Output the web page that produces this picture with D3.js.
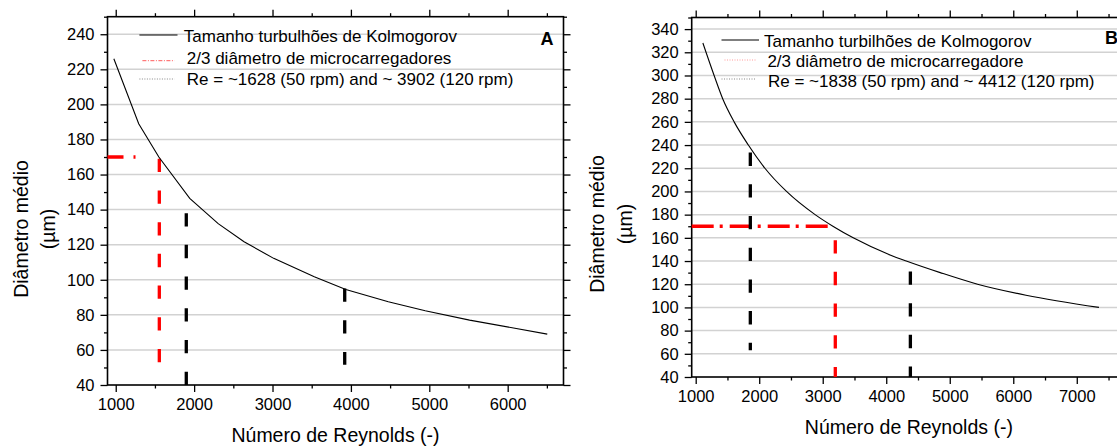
<!DOCTYPE html>
<html><head><meta charset="utf-8">
<script src="https://cdn.jsdelivr.net/npm/d3@7/dist/d3.min.js"></script>
<style>
body{margin:0;background:#fff}
svg{display:block}
text{font-family:"Liberation Sans",Arial,Helvetica,sans-serif;fill:#000}
</style>
</head><body>
<svg id="c" width="1117" height="447"></svg>
<script>
// ---------- DATA ----------
// Panel A: Kolmogorov eddy size vs Reynolds number
const reA  = [976, 1293, 1550, 1944, 2307, 2637, 3015, 3533, 3935, 4477, 4948, 5514, 6505];
const diaA = [226, 189, 170, 146.4, 132, 121.7, 112.2, 101.7, 94.5, 87.5, 82.3, 77, 69];
// Panel B
const reB  = [1113, 1290, 1425, 1605, 1829, 2090, 2430, 2880, 3160, 3480, 4070, 4315, 4850, 5437, 6200, 7349];
const diaB = [328, 300, 280, 260, 240, 220, 200, 180, 170, 160, 145, 140, 130, 120, 110.5, 100];

// reference lines [Re, diameter]
const redHA  = [[895, 170], [1253, 170]];
const redVA  = [[1556, 169], [1556, 52]];
const blk1A  = [[1900, 138], [1900, 40]];
const blk2A  = [[3921, 95], [3921, 51.5]];
const redHB  = [[937, 170], [3142, 170]];
const redVB  = [[3198, 158], [3198, 40]];
const blk1B  = [[1860, 233.5], [1860, 63]];
const blk2B  = [[4380, 131], [4380, 40]];

// ticks
const xTicksA = [1000, 2000, 3000, 4000, 5000, 6000];
const xMinorA = [1500, 2500, 3500, 4500, 5500, 6500];
const yTicksA = [40, 60, 80, 100, 120, 140, 160, 180, 200, 220, 240];
const yMinorA = [50, 70, 90, 110, 130, 150, 170, 190, 210, 230, 250];
const xTicksB = [1000, 2000, 3000, 4000, 5000, 6000, 7000];
const xMinorB = [1500, 2500, 3500, 4500, 5500, 6500, 7500];
const yTicksB = [40, 60, 80, 100, 120, 140, 160, 180, 200, 220, 240, 260, 280, 300, 320, 340];
const yMinorB = [50, 70, 90, 110, 130, 150, 170, 190, 210, 230, 250, 270, 290, 310, 330, 350];

// texts
const legendA = ["Tamanho turbulhões de Kolmogorov", "2/3 diâmetro de microcarregadores", "Re = ~1628 (50 rpm) and ~ 3902 (120 rpm)"];
const legendB = ["Tamanho turbilhões de Kolmogorov", "2/3 diâmetro de microcarregadore", "Re = ~1838 (50 rpm) and ~ 4412 (120 rpm)"];
const xTitle = "Número de Reynolds (-)";
const yTitle1 = "Diâmetro médio";
const yTitle2 = "(µm)";

// ---------- LAYOUT ----------
const panels = [
  { re: reA, dia: diaA, curve: d3.curveLinear,
    xDom: [895, 6712], yDom: [40, 250], left: 107.5, right: 563.5, top: 16.7, bottom: 385,
    xT: xTicksA, xM: xMinorA, yT: yTicksA, yM: yMinorA,
    redH: redHA, redV: redVA, blk1: blk1A, blk2: blk2A, redHDash: "16,10,2,10",
    legend: legendA, legX: [139.4, 177.5], legTextX: [183.8, 186.8, 186.8], legY: [35, 60.7, 79], legBase: [41.7, 64, 85.3],
    redLegDash: "4,1.5,1,1.5", redLegColor: "#ff5a5a",
    label: "A", labelX: 540.5, labelY: 45,
    yt1x: 20.5, yt2x: 48.3, ytY: 229, xtY: 441.5 },
  { re: reB, dia: diaB, curve: d3.curveMonotoneX,
    xDom: [937, 7775], yDom: [40, 350], left: 691.7, right: 1126, top: 17.5, bottom: 377,
    xT: xTicksB, xM: xMinorB, yT: yTicksB, yM: yMinorB,
    redH: redHB, redV: redVB, blk1: blk1B, blk2: blk2B, redHDash: "22,6,3,7",
    legend: legendB, legX: [721.5, 759], legTextX: [764, 767.4, 768], legY: [40, 60, 79], legBase: [46.7, 66.7, 87.3],
    redLegDash: "1,1.5", redLegColor: "#ff9a9a",
    label: "B", labelX: 1105, labelY: 44,
    yt1x: 597, yt2x: 625, ytY: 224, xtY: 433.5 }
];

const svg = d3.select("#c");
svg.append("rect").attr("width", 1117).attr("height", 447).attr("fill", "#fff");

panels.forEach(p => {
  const x = d3.scaleLinear().domain(p.xDom).range([p.left, p.right]);
  const y = d3.scaleLinear().domain(p.yDom).range([p.bottom, p.top]);
  const g = svg.append("g");

  // grid
  g.append("g").selectAll("line").data(p.yT.filter(v => v > p.yDom[0])).join("line")
    .attr("x1", p.left).attr("x2", p.right)
    .attr("y1", d => y(d)).attr("y2", d => y(d))
    .attr("stroke", "#d2d2d2").attr("stroke-width", 1.5);

  // axes
  const styleAxis = (sel, fs) => {
    sel.select(".domain").remove();
    sel.selectAll("line").attr("stroke", "#000").attr("stroke-width", 1.3);
    sel.selectAll("text").style("font-size", fs + "px").attr("fill", "#000");
  };
  g.append("g").attr("transform", `translate(0,${p.bottom})`)
    .call(d3.axisBottom(x).tickValues(p.xT).tickSize(7).tickPadding(6).tickFormat(d3.format("d")))
    .call(s => styleAxis(s, 16.5));
  g.append("g").attr("transform", `translate(0,${p.bottom})`)
    .call(d3.axisBottom(x).tickValues(p.xM).tickSize(3.5).tickFormat(""))
    .call(s => styleAxis(s, 10));
  g.append("g").attr("transform", `translate(0,${p.top})`)
    .call(d3.axisTop(x).tickValues(p.xT).tickSize(7).tickFormat(""))
    .call(s => styleAxis(s, 10));
  g.append("g").attr("transform", `translate(0,${p.top})`)
    .call(d3.axisTop(x).tickValues(p.xM).tickSize(3.5).tickFormat(""))
    .call(s => styleAxis(s, 10));
  g.append("g").attr("transform", `translate(${p.left},0)`)
    .call(d3.axisLeft(y).tickValues(p.yT).tickSize(7).tickPadding(6).tickFormat(d3.format("d")))
    .call(s => styleAxis(s, 16.5));
  g.append("g").attr("transform", `translate(${p.left},0)`)
    .call(d3.axisLeft(y).tickValues(p.yM).tickSize(3.5).tickFormat(""))
    .call(s => styleAxis(s, 10));
  g.append("g").attr("transform", `translate(${p.right},0)`)
    .call(d3.axisRight(y).tickValues(p.yT).tickSize(7).tickFormat(""))
    .call(s => styleAxis(s, 10));
  g.append("g").attr("transform", `translate(${p.right},0)`)
    .call(d3.axisRight(y).tickValues(p.yM).tickSize(3.5).tickFormat(""))
    .call(s => styleAxis(s, 10));

  // frame
  g.append("rect").attr("x", p.left).attr("y", p.top)
    .attr("width", p.right - p.left).attr("height", p.bottom - p.top)
    .attr("fill", "none").attr("stroke", "#000").attr("stroke-width", 1.6);

  const line = d3.line().x(d => x(d[0])).y(d => y(d[1]));

  // reference lines
  g.append("path").datum(p.redH).attr("d", line).attr("fill", "none")
    .attr("stroke", "#ff0000").attr("stroke-width", 3.5).attr("stroke-dasharray", p.redHDash);
  g.append("path").datum(p.redV).attr("d", line).attr("fill", "none")
    .attr("stroke", "#ff0000").attr("stroke-width", 3.3).attr("stroke-dasharray", "13.3,18.4");
  [p.blk1, p.blk2].forEach(l => {
    g.append("path").datum(l).attr("d", line).attr("fill", "none")
      .attr("stroke", "#000").attr("stroke-width", 3.3).attr("stroke-dasharray", "13.3,18.4");
  });

  // curve
  const curveLine = d3.line().x((d, i) => x(p.re[i])).y(d => y(d)).curve(p.curve);
  g.append("path").datum(p.dia).attr("d", curveLine).attr("fill", "none")
    .attr("stroke", "#000").attr("stroke-width", 1.1);

  // legend
  g.append("line").attr("x1", p.legX[0]).attr("x2", p.legX[1]).attr("y1", p.legY[0]).attr("y2", p.legY[0])
    .attr("stroke", "#000").attr("stroke-width", 1.1);
  g.append("line").attr("x1", p.legX[0] + 3).attr("x2", p.legX[1] - 3).attr("y1", p.legY[1]).attr("y2", p.legY[1])
    .attr("stroke", p.redLegColor).attr("stroke-width", 1).attr("stroke-dasharray", p.redLegDash);
  g.append("line").attr("x1", p.legX[0]).attr("x2", p.legX[1] - 3).attr("y1", p.legY[2]).attr("y2", p.legY[2])
    .attr("stroke", "#888").attr("stroke-width", 1).attr("stroke-dasharray", "1,1.5");
  p.legend.forEach((t, i) => {
    g.append("text").attr("x", p.legTextX[i]).attr("y", p.legBase[i]).style("font-size", "17px").text(t);
  });
  g.append("text").attr("x", p.labelX).attr("y", p.labelY).style("font-size", "18px")
    .style("font-weight", "bold").text(p.label);

  // axis titles
  g.append("text").attr("x", (p.left + p.right) / 2).attr("y", p.xtY).attr("text-anchor", "middle")
    .style("font-size", "19.5px").text(xTitle);
  g.append("text").attr("transform", `translate(${p.yt1x},${p.ytY}) rotate(-90)`)
    .attr("text-anchor", "middle").attr("dominant-baseline", "central").style("font-size", "19.5px").text(yTitle1);
  g.append("text").attr("transform", `translate(${p.yt2x},${p.ytY}) rotate(-90)`)
    .attr("text-anchor", "middle").attr("dominant-baseline", "central").style("font-size", "19.5px").text(yTitle2);
});
</script>
</body></html>
